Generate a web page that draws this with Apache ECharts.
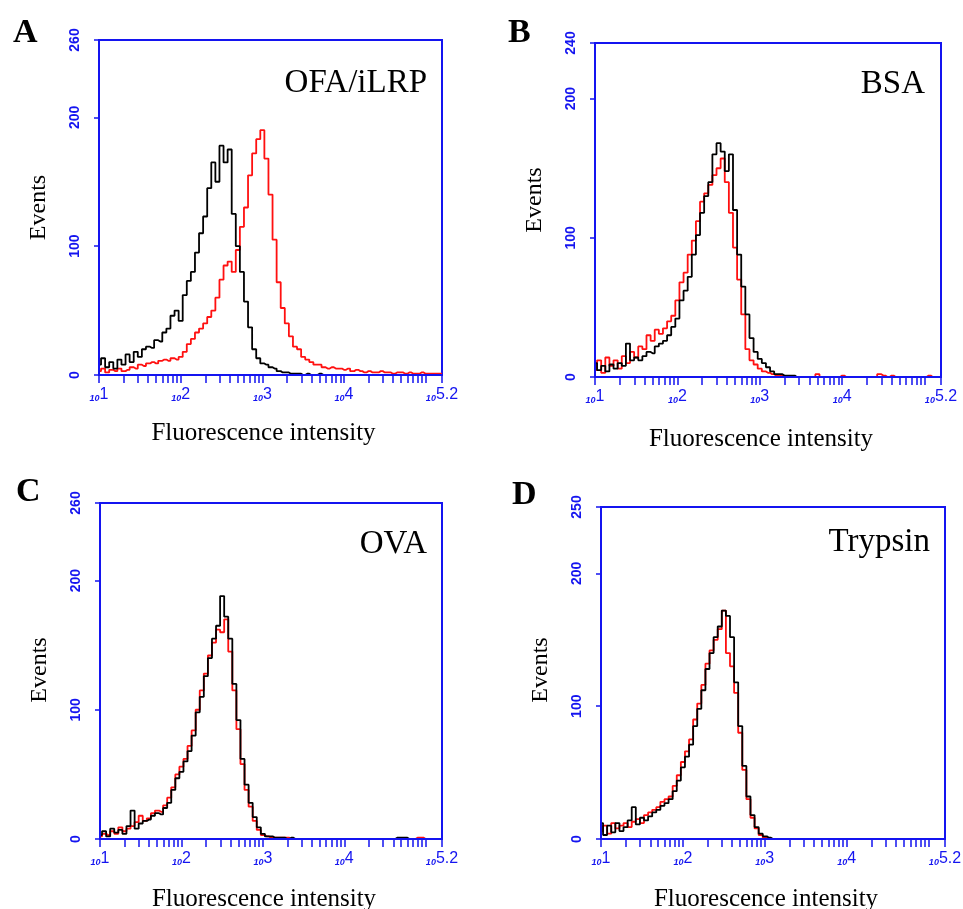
<!DOCTYPE html>
<html>
<head>
<meta charset="utf-8">
<script src="https://cdn.jsdelivr.net/npm/echarts@6/dist/echarts.min.js"></script>
<style>
html, body { margin: 0; padding: 0; background: #fff; }
#main { width: 963px; height: 909px; }
</style>
</head>
<body>
<div id="main"></div>
<script>
// channel positions in decades (log10 of fluorescence intensity)
var channels = [1.00, 1.05, 1.10, 1.15, 1.20, 1.25, 1.30, 1.35, 1.40, 1.45,
    1.50, 1.55, 1.60, 1.65, 1.70, 1.75, 1.80, 1.85, 1.90, 1.95,
    2.00, 2.05, 2.10, 2.15, 2.20, 2.25, 2.30, 2.35, 2.40, 2.45,
    2.50, 2.55, 2.60, 2.65, 2.70, 2.75, 2.80, 2.85, 2.90, 2.95,
    3.00, 3.05, 3.10, 3.15, 3.20, 3.25, 3.30, 3.35, 3.40, 3.45,
    3.50, 3.55, 3.60, 3.65, 3.70, 3.75, 3.80, 3.85, 3.90, 3.95,
    4.00, 4.05, 4.10, 4.15, 4.20, 4.25, 4.30, 4.35, 4.40, 4.45,
    4.50, 4.55, 4.60, 4.65, 4.70, 4.75, 4.80, 4.85, 4.90, 4.95,
    5.00, 5.05, 5.10, 5.15, 5.20];

// A: OFA/iLRP
var aBlack = [8, 13, 6, 10, 5, 12, 8, 16, 10, 18,
    14, 20, 22, 21, 27, 26, 33, 36, 46, 50,
    42, 62, 73, 80, 95, 110, 123, 145, 165, 150,
    178, 165, 175, 125, 100, 80, 57, 37, 20, 13,
    9, 8, 6, 5, 3, 2, 2, 1, 1, 1,
    0, 1, 0, 0, 1, 0, 0, 0, 0, 0,
    0, 0, 0, 0, 0, 0, 0, 0, 0, 0,
    0, 0, 0, 0, 0, 0, 0, 0, 0, 0,
    0, 0, 0, 0, 0];
var aRed = [3, 5, 2, 4, 3, 5, 3, 4, 6, 5,
    8, 7, 9, 10, 9, 11, 12, 11, 13, 12,
    14, 18, 24, 28, 33, 36, 40, 45, 50, 60,
    74, 85, 88, 80, 97, 115, 130, 155, 172, 183,
    190, 168, 140, 105, 72, 52, 40, 30, 22, 20,
    14, 12, 10, 8, 8, 6, 5, 6, 5, 5,
    4, 5, 3, 4, 3, 2, 3, 2, 2, 3,
    2, 2, 1, 2, 2, 1, 2, 1, 1, 2,
    1, 1, 1, 1, 1];

// B: BSA
var bBlack = [10, 5, 8, 4, 9, 6, 10, 8, 24, 12,
    14, 12, 15, 18, 17, 22, 24, 26, 30, 36,
    42, 55, 62, 72, 88, 102, 118, 130, 140, 160,
    168, 162, 148, 160, 120, 88, 65, 45, 28, 18,
    13, 10, 7, 4, 2, 2, 1, 1, 1, 0,
    0, 0, 0, 0, 0, 0, 0, 0, 0, 0,
    0, 0, 0, 0, 0, 0, 0, 0, 0, 0,
    0, 0, 0, 0, 0, 0, 0, 0, 0, 0,
    0, 0, 0, 0, 0];
var bRed = [5, 12, 3, 14, 8, 12, 6, 15, 10, 18,
    14, 22, 20, 30, 26, 34, 31, 35, 40, 44,
    55, 68, 75, 88, 98, 112, 126, 132, 138, 145,
    150, 157, 140, 118, 93, 70, 45, 20, 12, 9,
    6, 4, 3, 2, 1, 1, 0, 0, 0, 0,
    0, 0, 0, 0, 2, 0, 0, 0, 0, 0,
    1, 0, 0, 0, 0, 0, 0, 0, 0, 2,
    1, 0, 1, 0, 0, 0, 0, 0, 0, 0,
    0, 1, 0, 0, 0];

// C: OVA
var cBlack = [3, 6, 2, 8, 5, 7, 4, 10, 22, 8,
    12, 14, 15, 18, 20, 19, 24, 28, 38, 47,
    52, 60, 68, 80, 98, 110, 126, 140, 155, 165,
    188, 172, 155, 120, 92, 62, 42, 28, 17, 9,
    4, 2, 2, 1, 1, 1, 0, 1, 0, 0,
    0, 0, 0, 0, 0, 0, 0, 0, 0, 0,
    0, 0, 0, 0, 0, 0, 0, 0, 0, 0,
    0, 0, 0, 1, 1, 1, 0, 0, 0, 0,
    0, 0, 0, 0, 0];
var cRed = [2, 4, 3, 6, 4, 9, 6, 8, 10, 13,
    18, 14, 16, 20, 22, 21, 26, 32, 40, 50,
    56, 62, 72, 84, 100, 115, 128, 142, 152, 162,
    160, 170, 145, 115, 85, 58, 38, 25, 14, 7,
    3, 2, 1, 1, 1, 1, 1, 0, 0, 0,
    0, 0, 0, 0, 0, 0, 0, 0, 0, 0,
    0, 0, 0, 0, 0, 0, 0, 0, 0, 0,
    0, 0, 0, 0, 0, 0, 0, 0, 1, 1,
    0, 0, 0, 0, 0];

// D: Trypsin
var dBlack = [12, 3, 10, 5, 12, 6, 9, 14, 24, 11,
    16, 14, 17, 20, 22, 25, 27, 30, 36, 44,
    54, 62, 71, 85, 98, 112, 128, 140, 152, 160,
    172, 168, 152, 118, 85, 55, 32, 18, 9, 4,
    2, 1, 0, 0, 0, 0, 0, 0, 0, 0,
    0, 0, 0, 0, 0, 0, 0, 0, 0, 0,
    0, 0, 0, 0, 0, 0, 0, 0, 0, 0,
    0, 0, 0, 0, 0, 0, 0, 0, 0, 0,
    0, 0, 0, 0, 0];
var dRed = [6, 10, 4, 12, 8, 10, 12, 9, 13, 15,
    12, 18, 20, 22, 24, 28, 30, 32, 40, 48,
    58, 66, 75, 90, 102, 116, 132, 142, 150, 158,
    172, 140, 130, 110, 80, 52, 30, 16, 8, 3,
    1, 0, 0, 0, 0, 0, 0, 0, 0, 0,
    0, 0, 0, 0, 0, 0, 0, 0, 0, 0,
    0, 0, 0, 0, 0, 0, 0, 0, 0, 0,
    0, 0, 0, 0, 0, 0, 0, 0, 0, 0,
    0, 0, 0, 0, 0];

var xLabelValues = [1, 2, 3, 4, 5.2];
var yMaxes = [260, 240, 260, 250];
var yLabelValues = [0, 100, 200];
var panelLetters = ['A', 'B', 'C', 'D'];
var panelNames = ['OFA/iLRP', 'BSA', 'OVA', 'Trypsin'];

var BLUE = '#1414f0';
var SERIF = '"Liberation Serif", "Times New Roman", serif';

// layout of the four panels
var panels = [
    { black: aBlack, red: aRed, grid: { left: 99, top: 40, width: 343, height: 335 },
      xGap: 46, yPad: [0, 0, 0, 0], letterPos: [13, 33], namePos: [427, 83] },
    { black: bBlack, red: bRed, grid: { left: 595, top: 43, width: 346, height: 334 },
      xGap: 50, yPad: [0, 0, 0, 20], letterPos: [508, 33], namePos: [925, 84] },
    { black: cBlack, red: cRed, grid: { left: 100, top: 503, width: 342, height: 336 },
      xGap: 48, yPad: [0, 0, 0, 2], letterPos: [16, 492], namePos: [427, 544] },
    { black: dBlack, red: dRed, grid: { left: 601, top: 507, width: 344, height: 332 },
      xGap: 48, yPad: [0, 0, 0, 6], letterPos: [512, 495], namePos: [930, 542] }
];

// minor ticks at 2..9 of each decade
var xTicks = [];
for (var dec = 1; dec <= 5; dec++) {
    for (var k = 1; k <= 9; k++) {
        var t = dec + Math.log10(k);
        if (t <= 5.2) xTicks.push(t);
    }
}
xTicks.push(5.2);

function pairs(ys) {
    return channels.map(function (c, i) { return [c, ys[i]]; });
}

var grids = [], xAxes = [], yAxes = [], series = [], graphics = [];

panels.forEach(function (p, i) {
    var g = p.grid;
    grids.push({
        left: g.left, top: g.top, width: g.width, height: g.height,
        show: true, borderColor: BLUE, borderWidth: 2, backgroundColor: 'transparent',
        outerBoundsMode: 'none'
    });
    xAxes.push({
        gridIndex: i, type: 'value', min: 1, max: 5.2, z: 5,
        name: 'Fluorescence intensity', nameLocation: 'middle', nameGap: p.xGap,
        nameTextStyle: { fontFamily: SERIF, fontSize: 25, color: '#000', padding: [0, 14, 0, 0] },
        axisLine: { lineStyle: { color: BLUE, width: 2 } },
        axisTick: { customValues: xTicks, length: 8, lineStyle: { color: BLUE, width: 1.5 } },
        splitLine: { show: false },
        axisLabel: {
            customValues: xLabelValues, margin: 12,
            formatter: function (v) {
                return '{b|10}{e|' + (Math.round(v * 10) / 10) + '}';
            },
            rich: {
                b: { fontFamily: '"Liberation Sans", Arial', fontSize: 9, fontStyle: 'italic',
                     fontWeight: 'bold', color: BLUE, verticalAlign: 'bottom' },
                e: { fontFamily: '"Liberation Sans", Arial', fontSize: 16, color: BLUE,
                     verticalAlign: 'bottom' }
            }
        }
    });
    yAxes.push({
        gridIndex: i, type: 'value', min: 0, max: yMaxes[i], z: 5,
        name: 'Events', nameLocation: 'middle', nameGap: 48,
        nameTextStyle: { fontFamily: SERIF, fontSize: 24, color: '#000', padding: p.yPad },
        axisLine: { lineStyle: { color: BLUE, width: 2 } },
        axisTick: { customValues: yLabelValues.concat([yMaxes[i]]), length: 5,
                    lineStyle: { color: BLUE, width: 1.5 } },
        splitLine: { show: false },
        axisLabel: {
            customValues: yLabelValues.concat([yMaxes[i]]), rotate: 90, margin: 17,
            fontFamily: '"Liberation Sans", Arial', fontWeight: 'bold', fontSize: 14, color: BLUE
        }
    });
    series.push({
        type: 'line', xAxisIndex: i, yAxisIndex: i, step: 'middle', showSymbol: false,
        data: pairs(p.red), lineStyle: { color: '#ff1010', width: 1.8 }, z: 2, silent: true
    });
    series.push({
        type: 'line', xAxisIndex: i, yAxisIndex: i, step: 'middle', showSymbol: false,
        data: pairs(p.black), lineStyle: { color: '#000', width: 1.8 }, z: 3, silent: true
    });
    graphics.push({
        type: 'text', x: p.letterPos[0], y: p.letterPos[1],
        style: { text: panelLetters[i], font: 'bold 34px ' + SERIF, fill: '#000',
                 textAlign: 'left', textVerticalAlign: 'middle' }
    });
    graphics.push({
        type: 'text', x: p.namePos[0], y: p.namePos[1],
        style: { text: panelNames[i], font: '33px ' + SERIF, fill: '#000',
                 textAlign: 'right', textVerticalAlign: 'middle' }
    });
});

var chart = echarts.init(document.getElementById('main'));
chart.setOption({
    backgroundColor: '#fff',
    animation: false,
    grid: grids,
    xAxis: xAxes,
    yAxis: yAxes,
    series: series,
    graphic: graphics
});
</script>
</body>
</html>
